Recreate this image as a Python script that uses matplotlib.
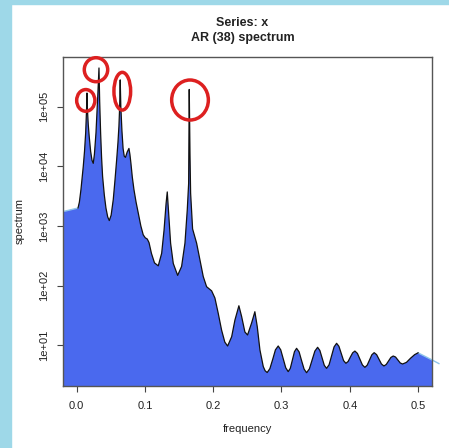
import numpy as np
import matplotlib
matplotlib.use('Agg')
import matplotlib.pyplot as plt
from matplotlib.patches import Ellipse

plt.rcParams['font.family'] = ['Liberation Sans', 'DejaVu Sans']

# AR(38) spectrum (frequency, log10 of spectrum)
freq = [0.0020, 0.0040, 0.0063, 0.0080, 0.0097, 0.0115, 0.0132, 0.0145, 0.0151, 0.0158,
        0.0170, 0.0184, 0.0205, 0.0225, 0.0243, 0.0260, 0.0283, 0.0300, 0.0312, 0.0327,
        0.0337, 0.0351, 0.0365, 0.0380, 0.0405, 0.0429, 0.0455, 0.0478, 0.0505, 0.0536,
        0.0560, 0.0586, 0.0605, 0.0619, 0.0630, 0.0638, 0.0647, 0.0663, 0.0680, 0.0697,
        0.0715, 0.0740, 0.0766, 0.0780, 0.0795, 0.0815, 0.0839, 0.0870, 0.0902, 0.0940,
        0.0975, 0.1005, 0.1034, 0.1060, 0.1095, 0.1140, 0.1195, 0.1245, 0.1280, 0.1310,
        0.1327, 0.1347, 0.1376, 0.1415, 0.1479, 0.1537, 0.1586, 0.1620, 0.1640, 0.1649,
        0.1660, 0.1669, 0.1698, 0.1757, 0.1805, 0.1854, 0.1903, 0.1977, 0.2025, 0.2074,
        0.2123, 0.2170, 0.2211, 0.2270, 0.2318, 0.2376, 0.2416, 0.2464, 0.2503, 0.2562,
        0.2610, 0.2645, 0.2684, 0.2733, 0.2760, 0.2790, 0.2830, 0.2871, 0.2911, 0.2952,
        0.2989, 0.3025, 0.3062, 0.3098, 0.3129, 0.3160, 0.3190, 0.3221, 0.3258, 0.3294,
        0.3331, 0.3367, 0.3408, 0.3448, 0.3489, 0.3529, 0.3562, 0.3595, 0.3627, 0.3660,
        0.3697, 0.3734, 0.3770, 0.3807, 0.3841, 0.3875, 0.3909, 0.3943, 0.3976, 0.4009,
        0.4042, 0.4075, 0.4112, 0.4148, 0.4185, 0.4221, 0.4255, 0.4289, 0.4323, 0.4357,
        0.4393, 0.4429, 0.4464, 0.4500, 0.4534, 0.4568, 0.4602, 0.4636, 0.4670, 0.4705,
        0.4739, 0.4773, 0.4830, 0.4890, 0.4950, 0.5000]
spec_log = [3.30, 3.40, 3.61, 3.80, 4.00, 4.25, 4.56, 4.95, 5.23, 4.95,
            4.70, 4.50, 4.25, 4.10, 4.05, 4.20, 4.56, 4.95, 5.25, 5.65,
            5.10, 4.56, 4.15, 3.83, 3.52, 3.30, 3.15, 3.09, 3.18, 3.44,
            3.75, 4.11, 4.40, 4.67, 5.00, 5.45, 5.00, 4.60, 4.30, 4.17,
            4.15, 4.24, 4.30, 4.20, 4.05, 3.82, 3.61, 3.40, 3.22, 3.00,
            2.85, 2.80, 2.78, 2.72, 2.54, 2.38, 2.33, 2.54, 2.93, 3.38,
            3.57, 3.21, 2.71, 2.37, 2.17, 2.32, 2.71, 3.27, 3.71, 5.29,
            4.20, 3.55, 2.95, 2.71, 2.43, 2.15, 1.98, 1.91, 1.79, 1.53,
            1.25, 1.05, 0.985, 1.14, 1.42, 1.66, 1.48, 1.22, 1.17, 1.37,
            1.56, 1.31, 0.92, 0.64, 0.57, 0.54, 0.605, 0.76, 0.92, 0.985,
            0.92, 0.77, 0.62, 0.555, 0.61, 0.75, 0.89, 0.946, 0.886, 0.74,
            0.597, 0.537, 0.60, 0.75, 0.90, 0.963, 0.91, 0.786, 0.66, 0.61,
            0.67, 0.82, 0.97, 1.03, 0.98, 0.86, 0.74, 0.695, 0.725, 0.80,
            0.87, 0.90, 0.86, 0.764, 0.667, 0.627, 0.663, 0.75, 0.837, 0.873,
            0.84, 0.76, 0.683, 0.65, 0.675, 0.733, 0.793, 0.817, 0.80, 0.75,
            0.70, 0.683, 0.71, 0.78, 0.84, 0.87]

# edges of the blue fill outside the curve
fill_left = (-0.02, 3.24)
fill_right = [(0.5198, 0.755), (0.5305, 0.69)]

# red rings (axes fraction: x, y, width, height)
circles = [(0.0618, 0.8671, 0.0494, 0.066),
           (0.0895, 0.9605, 0.0635, 0.073),
           (0.1608, 0.8951, 0.0453, 0.1147),
           (0.3445, 0.8683, 0.0995, 0.1217)]

freq = np.array(freq)
spectrum = 10 ** np.array(spec_log)

fig = plt.figure(figsize=(4.49, 4.48), dpi=100)
fig.patch.set_facecolor('white')
# light blue frame of the screenshot (top and left)
fig.patches.append(plt.Rectangle((0, 0), 11 / 449, 1, transform=fig.transFigure,
                                 color='#9ed8e8', zorder=0))
fig.patches.append(plt.Rectangle((0, 1 - 4 / 448), 1, 4 / 448, transform=fig.transFigure,
                                 color='#9ed8e8', zorder=0))

ax = fig.add_axes([0.1403, 0.1395, 0.8212, 0.7339])
ax.set_yscale('log')
ax.set_xlim(-0.02, 0.52)
ax.set_ylim(10 ** 0.322, 10 ** 5.839)

fx = np.concatenate([[fill_left[0]], freq, [p[0] for p in fill_right]])
fy = 10 ** np.concatenate([[fill_left[1]], spec_log, [p[1] for p in fill_right]])
ax.fill_between(fx, fy, 1e-3, color='#4a69ee', lw=0, zorder=1)
ax.plot([fill_left[0], freq[0]], [10 ** fill_left[1], spectrum[0]], color='#8ec4ea', lw=1, zorder=2)
ax.plot([freq[-1]] + [p[0] for p in fill_right], [spectrum[-1]] + [10 ** p[1] for p in fill_right],
        color='#8ec4ea', lw=1, zorder=2, clip_on=False)
ax.plot(freq, spectrum, color='#111111', lw=0.9, zorder=3)

for cx, cy, w, h in circles:
    ax.add_patch(Ellipse((cx, cy), w, h, transform=ax.transAxes, fill=False,
                         edgecolor='#dd2020', lw=2.5, clip_on=False, zorder=4))

ax.set_xticks([0.0, 0.1, 0.2, 0.3, 0.4, 0.5])
ax.set_xticklabels(['0.0', '0.1', '0.2', '0.3', '0.4', '0.5'])
ax.set_yticks([1e1, 1e2, 1e3, 1e4, 1e5])
ax.set_yticklabels(['1e+01', '1e+02', '1e+03', '1e+04', '1e+05'], rotation=90, va='center')
ax.minorticks_off()
ax.tick_params(axis='both', direction='out', length=4.3, width=0.8, colors='#444444',
               labelsize=8, labelcolor='#222222')
ax.tick_params(axis='x', pad=6.5)
ax.tick_params(axis='y', pad=6)
for s in ax.spines.values():
    s.set_color('#555555')
    s.set_linewidth(1.0)

ax.set_xlabel('frequency', fontsize=8, color='#222222')
ax.set_ylabel('spectrum', fontsize=8, color='#222222')
ax.xaxis.set_label_coords(0.5, -0.118)
ax.yaxis.set_label_coords(-0.105, 0.5)

fig.text(0.5403, 1 - 23 / 448, 'Series: x', ha='center', va='center',
         fontsize=9, fontweight='bold', color='#222222')
fig.text(0.5403, 1 - 37.7 / 448, 'AR (38) spectrum', ha='center', va='center',
         fontsize=9, fontweight='bold', color='#222222')

fig.savefig('out.png', dpi=100)
